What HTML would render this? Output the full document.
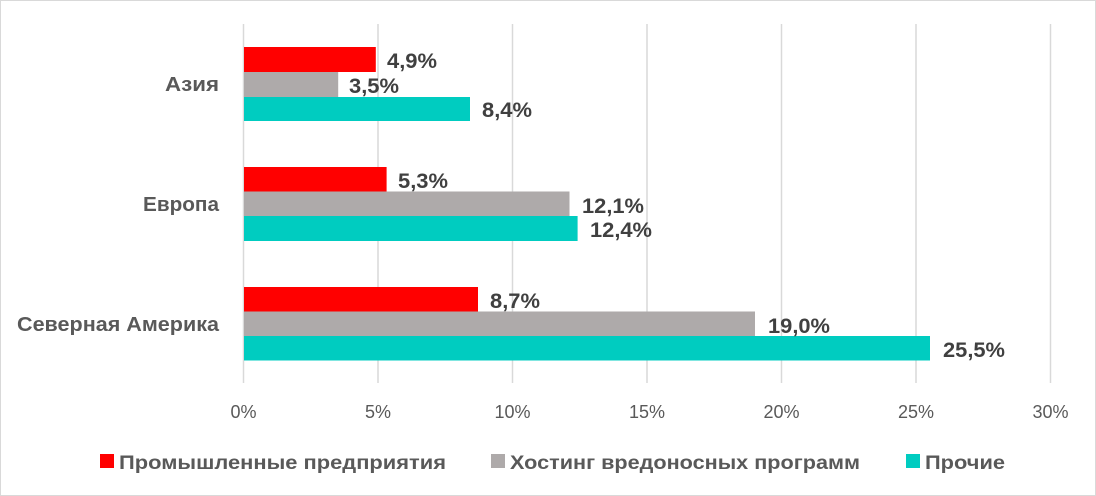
<!DOCTYPE html>
<html><head><meta charset="utf-8"><style>
body{margin:0;background:#fff;}
svg{display:block;font-family:"Liberation Sans",sans-serif;}
</style></head><body>
<svg width="1096" height="496" viewBox="0 0 1096 496">
<rect x="0.5" y="0.5" width="1095" height="495" fill="#fff" stroke="#d9d9d9"/>
<g stroke="#d9d9d9" stroke-width="1.5">
<line x1="243.5" y1="24" x2="243.5" y2="383"/>
<line x1="378" y1="24" x2="378" y2="383"/>
<line x1="512.5" y1="24" x2="512.5" y2="383"/>
<line x1="647" y1="24" x2="647" y2="383"/>
<line x1="781.5" y1="24" x2="781.5" y2="383"/>
<line x1="916" y1="24" x2="916" y2="383"/>
<line x1="1050.5" y1="24" x2="1050.5" y2="383"/>
</g>
<g>
<rect x="244" y="47" width="131.8" height="25" fill="#ff0000"/>
<rect x="244" y="72" width="94.2" height="25" fill="#aeaaaa"/>
<rect x="244" y="97" width="226" height="24" fill="#00ccc0"/>
<rect x="244" y="167" width="142.6" height="24.5" fill="#ff0000"/>
<rect x="244" y="191.5" width="325.5" height="24.5" fill="#aeaaaa"/>
<rect x="244" y="216" width="333.6" height="25" fill="#00ccc0"/>
<rect x="244" y="287" width="234" height="24.5" fill="#ff0000"/>
<rect x="244" y="311.5" width="511" height="24.5" fill="#aeaaaa"/>
<rect x="244" y="336" width="686" height="24.5" fill="#00ccc0"/>
</g>
<g font-size="21" font-weight="bold" fill="#404040">
<text x="387" y="68" textLength="50" lengthAdjust="spacingAndGlyphs">4,9%</text>
<text x="349" y="93" textLength="50" lengthAdjust="spacingAndGlyphs">3,5%</text>
<text x="482" y="117" textLength="50" lengthAdjust="spacingAndGlyphs">8,4%</text>
<text x="398" y="188" textLength="50" lengthAdjust="spacingAndGlyphs">5,3%</text>
<text x="582" y="213" textLength="62" lengthAdjust="spacingAndGlyphs">12,1%</text>
<text x="590" y="237" textLength="62" lengthAdjust="spacingAndGlyphs">12,4%</text>
<text x="490" y="308" textLength="50" lengthAdjust="spacingAndGlyphs">8,7%</text>
<text x="768" y="333" textLength="62" lengthAdjust="spacingAndGlyphs">19,0%</text>
<text x="943" y="357" textLength="62" lengthAdjust="spacingAndGlyphs">25,5%</text>
</g>
<g font-size="20" font-weight="bold" fill="#595959">
<text x="165" y="91" textLength="54" lengthAdjust="spacingAndGlyphs">Азия</text>
<text x="143" y="211" textLength="76" lengthAdjust="spacingAndGlyphs">Европа</text>
<text x="17" y="331" textLength="202" lengthAdjust="spacingAndGlyphs">Северная Америка</text>
</g>
<g font-size="18" fill="#595959" text-anchor="middle">
<text x="243.5" y="418">0%</text>
<text x="378" y="418">5%</text>
<text x="512.5" y="418">10%</text>
<text x="647" y="418">15%</text>
<text x="781.5" y="418">20%</text>
<text x="916" y="418">25%</text>
<text x="1050.5" y="418">30%</text>
</g>
<g font-size="19" fill="#595959" font-weight="bold">
<rect x="100" y="454" width="14" height="14" fill="#ff0000"/>
<text x="119" y="469" textLength="327" lengthAdjust="spacingAndGlyphs">Промышленные предприятия</text>
<rect x="491" y="454" width="14" height="14" fill="#aeaaaa"/>
<text x="510" y="469" textLength="350" lengthAdjust="spacingAndGlyphs">Хостинг вредоносных программ</text>
<rect x="906" y="454" width="14" height="14" fill="#00ccc0"/>
<text x="925" y="469" textLength="80" lengthAdjust="spacingAndGlyphs">Прочие</text>
</g>
</svg>
</body></html>
